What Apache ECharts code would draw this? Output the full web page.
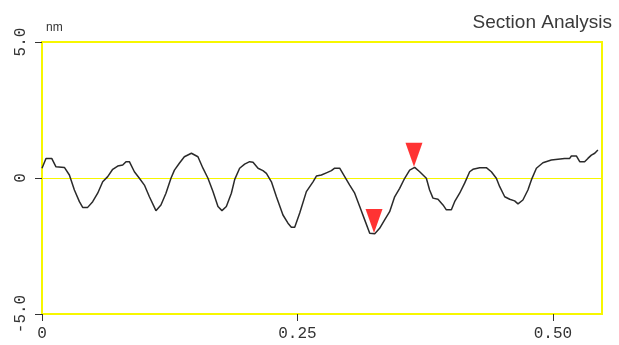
<!DOCTYPE html>
<html><head><meta charset="utf-8">
<script src="https://cdn.jsdelivr.net/npm/echarts@6/dist/echarts.min.js"></script>
<style>html,body{margin:0;padding:0;background:#fff}#c{width:619px;height:345px}</style>
</head><body><div id="c"></div>
<script>
const profileX = [0.000,0.0039,0.0095,0.0137,0.0219,0.0268,0.0317,0.0366,0.0398,0.0447,0.0496,0.0545,0.0594,0.0643,0.0692,0.0741,0.0790,0.0822,0.0855,0.0904,0.0953,0.1002,0.1051,0.1115,0.1164,0.1213,0.1262,0.1296,0.1344,0.1393,0.1462,0.1526,0.1575,0.1624,0.1673,0.1722,0.1761,0.1804,0.1853,0.1886,0.1934,0.1983,0.2032,0.2065,0.2114,0.2162,0.2196,0.2245,0.2294,0.2358,0.2407,0.2440,0.2473,0.2522,0.2587,0.2652,0.2685,0.2734,0.2783,0.2832,0.2864,0.2913,0.2962,0.3011,0.3060,0.3109,0.3158,0.3207,0.3256,0.3304,0.3353,0.3402,0.3451,0.3500,0.3549,0.3598,0.3647,0.3696,0.3761,0.3793,0.3826,0.3875,0.3924,0.3957,0.4006,0.4038,0.4087,0.4136,0.4185,0.4217,0.4283,0.4348,0.4397,0.4446,0.4479,0.4528,0.4577,0.4625,0.4658,0.4706,0.4755,0.4789,0.4838,0.4902,0.4984,0.5000,0.5114,0.5164,0.5180,0.5229,0.5262,0.5310,0.5342,0.5376,0.5409,0.5440];
const profileY = [0.36,0.72,0.72,0.41,0.39,0.11,-0.44,-0.87,-1.08,-1.08,-0.87,-0.56,-0.14,0.05,0.32,0.44,0.48,0.60,0.60,0.23,-0.01,-0.26,-0.69,-1.20,-0.99,-0.56,-0.01,0.29,0.54,0.78,0.91,0.78,0.36,-0.01,-0.50,-1.05,-1.20,-1.05,-0.56,-0.05,0.36,0.51,0.60,0.58,0.36,0.27,0.17,-0.14,-0.69,-1.36,-1.66,-1.81,-1.81,-1.29,-0.50,-0.14,0.07,0.11,0.19,0.27,0.36,0.36,0.05,-0.26,-0.56,-1.05,-1.54,-2.03,-2.05,-1.85,-1.54,-1.24,-0.69,-0.38,-0.01,0.29,0.39,0.23,-0.01,-0.44,-0.74,-0.78,-0.99,-1.17,-1.17,-0.87,-0.56,-0.19,0.23,0.32,0.38,0.38,0.23,-0.01,-0.32,-0.69,-0.78,-0.84,-0.95,-0.81,-0.44,-0.07,0.36,0.56,0.66,0.72,0.72,0.72,0.81,0.81,0.60,0.60,0.72,0.84,0.91,1.03];
const markerX = [0.3249, 0.3640];
const markerY = [-2.02, 0.41];
const xTicks = [0, 0.25, 0.5];
const xTickLabels = ['0', '0.25', '0.50'];
const yTicks = [-5, 0, 5];
const yTickLabels = ['-5.0', '0', '5.0'];
const xMax = 0.548;

const chart = echarts.init(document.getElementById('c'), null, {renderer: 'canvas'});
const lineData = profileX.map((x, i) => [x, profileY[i]]);
const markData = markerX.map((x, i) => [x, markerY[i]]);
chart.setOption({
  animation: false,
  backgroundColor: '#ffffff',
  title: [
    {text: 'Section Analysis', right: 2, top: 8, textStyle: {fontFamily: 'Liberation Sans', fontSize: 19, fontWeight: 'normal', color: '#3a3a3a'}},
    {text: 'nm', left: 41, top: 17, textStyle: {fontFamily: 'Liberation Sans', fontSize: 12, fontWeight: 'normal', color: '#333'}}
  ],
  grid: {left: 42, right: 17, top: 42, bottom: 31, show: true, borderColor: '#f7f700', borderWidth: 2, containLabel: false},
  xAxis: {
    type: 'value', min: 0, max: xMax,
    axisLine: {show: false, onZero: false},
    axisTick: {show: true, length: 7, lineStyle: {color: '#333', width: 1}, customValues: xTicks},
    axisLabel: {customValues: xTicks, margin: 12, fontFamily: 'Liberation Mono', fontSize: 16, color: '#333',
      formatter: v => { const i = xTicks.findIndex(t => Math.abs(t - v) < 1e-9); return i >= 0 ? xTickLabels[i] : ''; }},
    splitLine: {show: false}
  },
  yAxis: {
    type: 'value', min: -5, max: 5, interval: 5,
    axisLine: {show: false, onZero: false},
    axisTick: {show: true, length: 7, lineStyle: {color: '#333', width: 1}},
    axisLabel: {rotate: 90, margin: 13, fontFamily: 'Liberation Mono', fontSize: 16, color: '#333',
      formatter: v => { const i = yTicks.findIndex(t => Math.abs(t - v) < 1e-9); return i >= 0 ? yTickLabels[i] : ''; }},
    splitLine: {show: true, lineStyle: {color: '#f7f700', width: 1}}
  },
  series: [
    {type: 'line', data: lineData, showSymbol: false, symbol: 'none', lineStyle: {color: '#2a2a2a', width: 1.5}, z: 3},
    {type: 'scatter', data: markData, symbol: 'triangle', symbolRotate: 180, symbolSize: [17, 24], symbolOffset: [0, '-50%'], itemStyle: {color: '#ff0000'}, z: 4}
  ]
});
</script></body></html>
